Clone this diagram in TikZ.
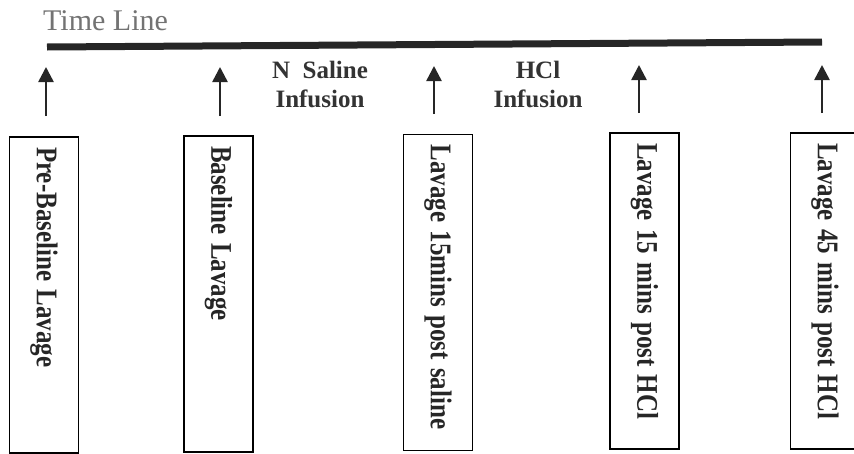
\documentclass[tikz,border=0pt]{standalone}
\usepackage{fontspec}
\usepackage{graphicx}
\setmainfont{Liberation Serif}
\usetikzlibrary{arrows.meta}

\newcommand{\tallword}[1]{\scalebox{1}[1.2]{#1}}

\tikzset{
  lavage/.style={draw, line width=1.5pt, rotate=-90, minimum height=69pt,
    text width=296pt, inner xsep=10pt, align=left,
    font=\bfseries\fontsize{25}{30}\selectfont, text=black!85},
  infusion/.style={align=center, font=\bfseries\fontsize{25}{29}\selectfont, text=black!80},
  tick/.style={-{Triangle[width=15pt,length=15pt]}, line width=2.5pt, black!85}
}

\begin{document}
\begin{tikzpicture}[x=1pt,y=-1pt]

\useasboundingbox (0,0) rectangle (854,453);

% \node (title) at (100,20) {Time Line};
\node[anchor=base west, font=\fontsize{30}{36}\selectfont, text=black!55, inner sep=0pt] (title) at (43,30) {Time Line};

\coordinate (tl0) at (47,47);
\coordinate (tl1) at (822,42);
\draw[line width=7pt, black!85] (tl0) -- (tl1);

\node[infusion] (saline) at (320,84) {N~~Saline\\Infusion};
\node[infusion] (hcl) at (538,84) {HCl\\Infusion};

\coordinate (s1) at (46,116);
\coordinate (t1) at (46,67);
\coordinate (s2) at (220,116);
\coordinate (t2) at (220,67);
\coordinate (s3) at (434,114);
\coordinate (t3) at (434,66);
\coordinate (s4) at (639,113);
\coordinate (t4) at (639,65);
\coordinate (s5) at (822,113);
\coordinate (t5) at (822,65);

\draw[tick] (s1) -- (t1);
\draw[tick] (s2) -- (t2);
\draw[tick] (s3) -- (t3);
\draw[tick] (s4) -- (t4);
\draw[tick] (s5) -- (t5);

\node[lavage] (b1) at (44,295) {\tallword{Pre-Baseline Lavage}};
\node[lavage] (b2) at (218.5,294) {\tallword{Baseline Lavage}};
\node[lavage] (b3) at (438,292.5) {\tallword{Lavage 15mins post saline}};
\node[lavage] (b4) at (644.5,291) {\tallword{Lavage 15 mins post HCl}};
\node[lavage] (b5) at (825,291) {\tallword{Lavage 45 mins post HCl}};

\end{tikzpicture}
\end{document}
